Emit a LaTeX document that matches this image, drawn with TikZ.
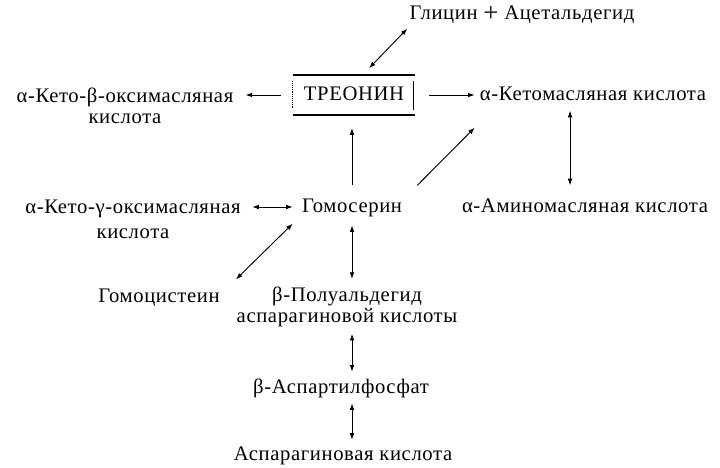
\documentclass[tikz,border=0pt]{standalone}
\usepackage{fontspec}
\setmainfont{Liberation Serif}[LetterSpace=3]
\usetikzlibrary{arrows.meta,calc}

\begin{document}
\begin{tikzpicture}[x=0.75pt,y=0.75pt,yscale=-1,xscale=1,
  lbl/.style={inner sep=0pt,font=\fontsize{15.5}{15.5}\selectfont},
  one/.style={lbl,text height=11pt,text depth=3pt},
  rx/.style={line width=0.7pt,-{Latex[length=5pt,width=3.5pt]}},
  rxx/.style={line width=0.7pt,{Latex[length=5pt,width=3.5pt]}-{Latex[length=5pt,width=3.5pt]}}]
\useasboundingbox (0,0) rectangle (720,467);

% Text Nodes
\node[one] (gly) at (522,14) {Глицин \raisebox{-2pt}{\fontsize{20}{20}\selectfont +} Ацетальдегид};
\node[one,minimum width=91.5pt,minimum height=29.25pt] (thr) at (354,95) {ТРЕОНИН};
\node[lbl,align=center] (ketob) at (125,106) {α-Кето-β-оксимасляная\\кислота};
\node[one] (ketobut) at (593,95) {α-Кетомасляная кислота};
\node[lbl,align=center] (ketog) at (133,219) {α-Кето-γ-оксимасляная\\[3pt]кислота};
\node[one] (homoser) at (352,207) {Гомосерин};
\node[one] (amino) at (585,207) {α-Аминомасляная кислота};
\node[one] (homocys) at (159,297) {Гомоцистеин};
\node[lbl,align=center] (semiald) at (347,307) {β-Полуальдегид\\аспарагиновой кислоты};
\node[one] (aspp) at (341,388) {β-Аспартилфосфат};
\node[one] (asp) at (343,455) {Аспарагиновая кислота};

% Shape: Box
\draw[line width=1.5pt] (thr.north west) -- (thr.north east);
\draw[line width=1.5pt] (thr.south west) -- (thr.south east);
\draw[line width=0.4pt,densely dotted] ($(thr.north west)+(0,6)$) -- ($(thr.south west)+(0,-7)$);
\draw[line width=0.5pt] ($(thr.north east)+(-2,6)$) -- ($(thr.south east)+(-2,-5)$);

% Straight Lines
\draw[rxx] ($(thr.north)+(15,-7)$) -- ($(gly.south west)+(-2,5)$);
\draw[rx,shorten <=9pt,shorten >=9pt] (thr.west) -- (thr.west -| ketob.east);
\draw[rx,shorten <=10.5pt,shorten >=3.75pt] (thr.east) -- (ketobut.west);
\draw[rx,shorten <=9.5pt,shorten >=10pt] (homoser.north) -- (homoser.north |- thr.south);
\draw[rx] ($(homoser.north east)+(15,-12)$) -- ($(ketobut.south west)+(-5,23)$);
\draw[rxx] ($(ketobut.south)+(-23,6)$) -- ($(amino.north)+(-15,-12)$);
\draw[rxx,shorten <=6.75pt,shorten >=8.5pt] (homoser.west) -- (homoser.west -| ketog.east);
\draw[rxx] ($(homoser.south west)+(-9,7)$) -- ($(homocys.north east)+(16,-8)$);
\draw[rxx,shorten <=6.5pt,shorten >=6pt] (homoser.south) -- (homoser.south |- semiald.north);
\draw[rxx,shorten <=5pt,shorten >=5pt] (semiald.south -| homoser) -- (aspp.north -| homoser);
\draw[rxx,shorten <=4.2pt,shorten >=4.2pt] (aspp.south -| homoser) -- (asp.north -| homoser);

\end{tikzpicture}
\end{document}
